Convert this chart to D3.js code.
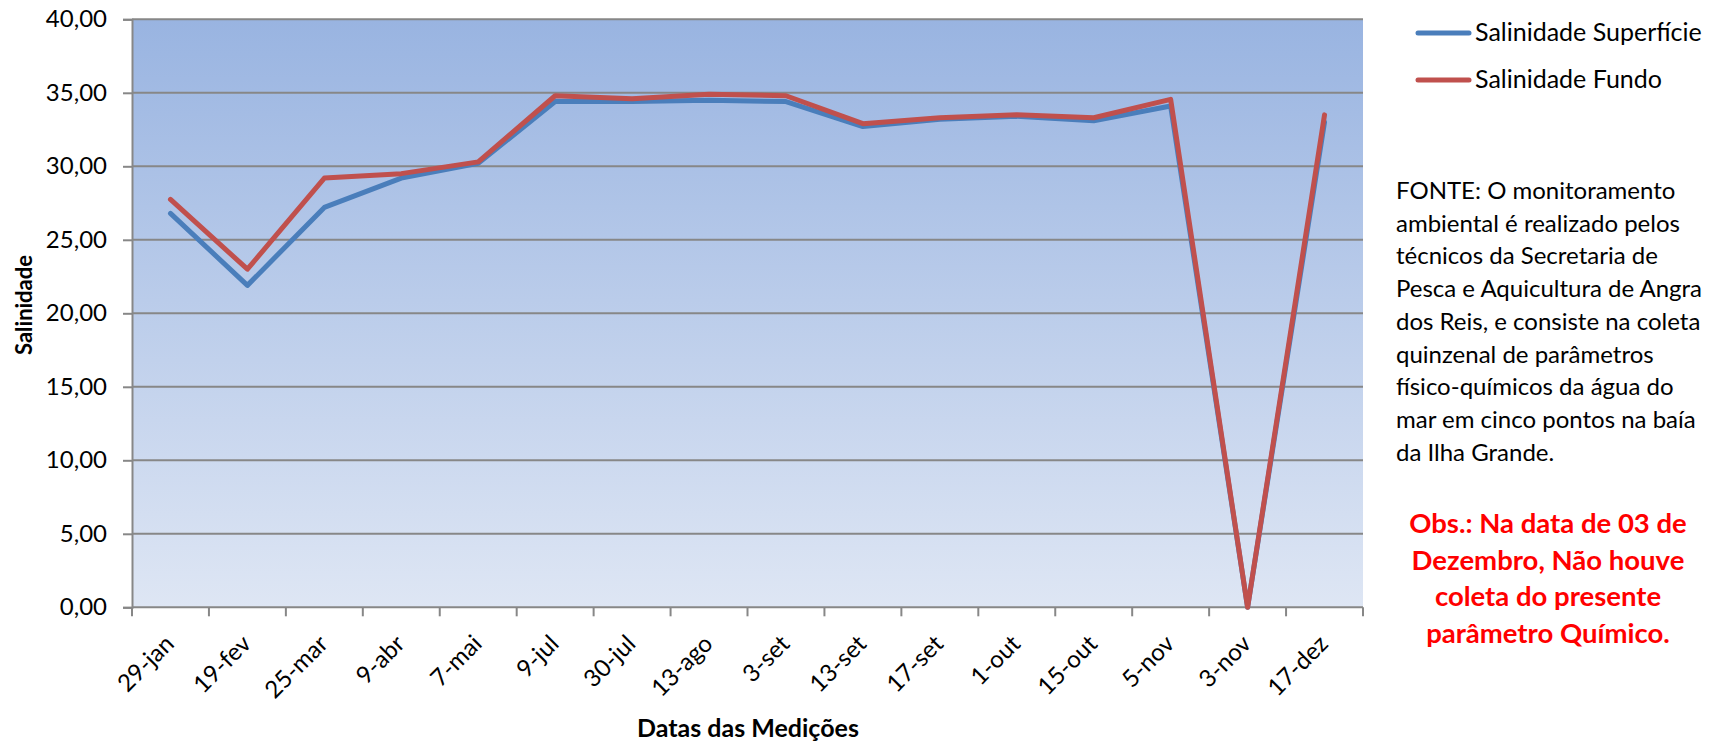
<!DOCTYPE html>
<html>
<head>
<meta charset="utf-8">
<script src="https://cdn.jsdelivr.net/npm/d3@7"></script>
<style>
  html, body { margin: 0; padding: 0; background: #fff; }
  svg { display: block; }
  text { font-family: Lato, "Open Sans", sans-serif; }
</style>
</head>
<body>
<svg id="chart" width="1712" height="744"></svg>
<script>
const categories = ["29-jan","19-fev","25-mar","9-abr","7-mai","9-jul","30-jul","13-ago","3-set","13-set","17-set","1-out","15-out","5-nov","3-nov","17-dez"];
const salinidadeSuperficie = [26.8, 21.9, 27.2, 29.2, 30.2, 34.4, 34.4, 34.5, 34.4, 32.7, 33.2, 33.4, 33.1, 34.1, 0, 33.0];
const salinidadeFundo      = [27.75, 23.0, 29.2, 29.5, 30.3, 34.8, 34.6, 34.9, 34.8, 32.9, 33.3, 33.5, 33.3, 34.55, 0, 33.5];
const yTicks = [0, 5, 10, 15, 20, 25, 30, 35, 40];
const seriesNames = ["Salinidade Superfície", "Salinidade Fundo"];
const seriesColors = ["#4A7EBB", "#C0504D"];
const noteLines = ["FONTE: O monitoramento", "ambiental é realizado pelos", "técnicos da Secretaria de", "Pesca e Aquicultura de Angra", "dos Reis, e consiste na coleta", "quinzenal de parâmetros", "físico-químicos da água do", "mar em cinco pontos na baía", "da Ilha Grande."];
const obsLines = ["Obs.: Na data de 03 de", "Dezembro, Não houve", "coleta do presente", "parâmetro Químico."];

const svg = d3.select("#chart");
const L = 132, R = 1363, T = 19.3, B = 607.3;

const x = d3.scaleBand().domain(categories).range([L, R]).padding(0);
const y = d3.scaleLinear().domain([0, 40]).range([B, T]);

// gradient background
const defs = svg.append("defs");
const grad = defs.append("linearGradient").attr("id", "bg").attr("x1", 0).attr("y1", 0).attr("x2", 0).attr("y2", 1);
grad.append("stop").attr("offset", "0%").attr("stop-color", "#99B4E1");
grad.append("stop").attr("offset", "100%").attr("stop-color", "#DEE6F4");

svg.append("rect").attr("x", L).attr("y", T).attr("width", R - L).attr("height", B - T).attr("fill", "url(#bg)");

// y axis with gridlines
const fmt = d => d3.format(".2f")(d).replace(".", ",");
const yAxis = svg.append("g").attr("transform", `translate(${L},0)`)
  .call(d3.axisLeft(y).tickValues(yTicks).tickFormat(fmt).tickSize(9).tickPadding(16));
yAxis.select(".domain").attr("stroke", "#878787").attr("stroke-width", 2);
yAxis.selectAll(".tick line").attr("stroke", "#878787").attr("stroke-width", 2);
yAxis.selectAll(".tick text").attr("font-size", 24).attr("fill", "#000").attr("font-family", "Lato, sans-serif");

svg.append("g").selectAll("line").data(yTicks).join("line")
  .attr("x1", L).attr("x2", R).attr("y1", d => y(d)).attr("y2", d => y(d))
  .attr("stroke", "#878787").attr("stroke-width", 2);

// x axis: ticks between categories
const boundaries = categories.map(c => x(c)).concat([R]);
svg.append("g").selectAll("line").data(boundaries).join("line")
  .attr("x1", d => d).attr("x2", d => d).attr("y1", B).attr("y2", B + 9)
  .attr("stroke", "#878787").attr("stroke-width", 2);

svg.append("g").selectAll("text").data(categories).join("text")
  .attr("transform", d => `translate(${x(d) + x.bandwidth() / 2 + 5},${B + 38}) rotate(-45)`)
  .attr("text-anchor", "end").attr("font-size", 24).attr("fill", "#000")
  .text(d => d);

// lines
const line = d3.line().x((d, i) => x(categories[i]) + x.bandwidth() / 2).y(d => y(d));
[salinidadeSuperficie, salinidadeFundo].forEach((s, k) => {
  svg.append("path").datum(s).attr("d", line).attr("fill", "none")
    .attr("stroke", seriesColors[k]).attr("stroke-width", 5)
    .attr("stroke-linejoin", "round").attr("stroke-linecap", "round");
});

// axis titles
svg.append("text").attr("transform", `translate(32,305) rotate(-90)`)
  .attr("text-anchor", "middle").attr("font-size", 22).attr("font-weight", "bold").text("Salinidade");
svg.append("text").attr("x", 748).attr("y", 737)
  .attr("text-anchor", "middle").attr("font-size", 25).attr("font-weight", "bold").text("Datas das Medições");

// legend
const lg = svg.append("g");
seriesNames.forEach((n, i) => {
  const ly = 33 + i * 47;
  lg.append("line").attr("x1", 1418).attr("x2", 1469).attr("y1", ly).attr("y2", ly)
    .attr("stroke", seriesColors[i]).attr("stroke-width", 5).attr("stroke-linecap", "round");
  lg.append("text").attr("x", 1475).attr("y", ly + 8).attr("font-size", 25).text(n);
});

// note
svg.append("g").selectAll("text").data(noteLines).join("text")
  .attr("x", 1396).attr("y", (d, i) => 199 + i * 32.7).attr("font-size", 24).text(d => d);

svg.append("g").selectAll("text").data(obsLines).join("text")
  .attr("x", 1548).attr("y", (d, i) => 533 + i * 36.5).attr("text-anchor", "middle")
  .attr("font-size", 27.5).attr("font-weight", "bold").attr("fill", "#FF0000").text(d => d);
</script>
</body>
</html>
